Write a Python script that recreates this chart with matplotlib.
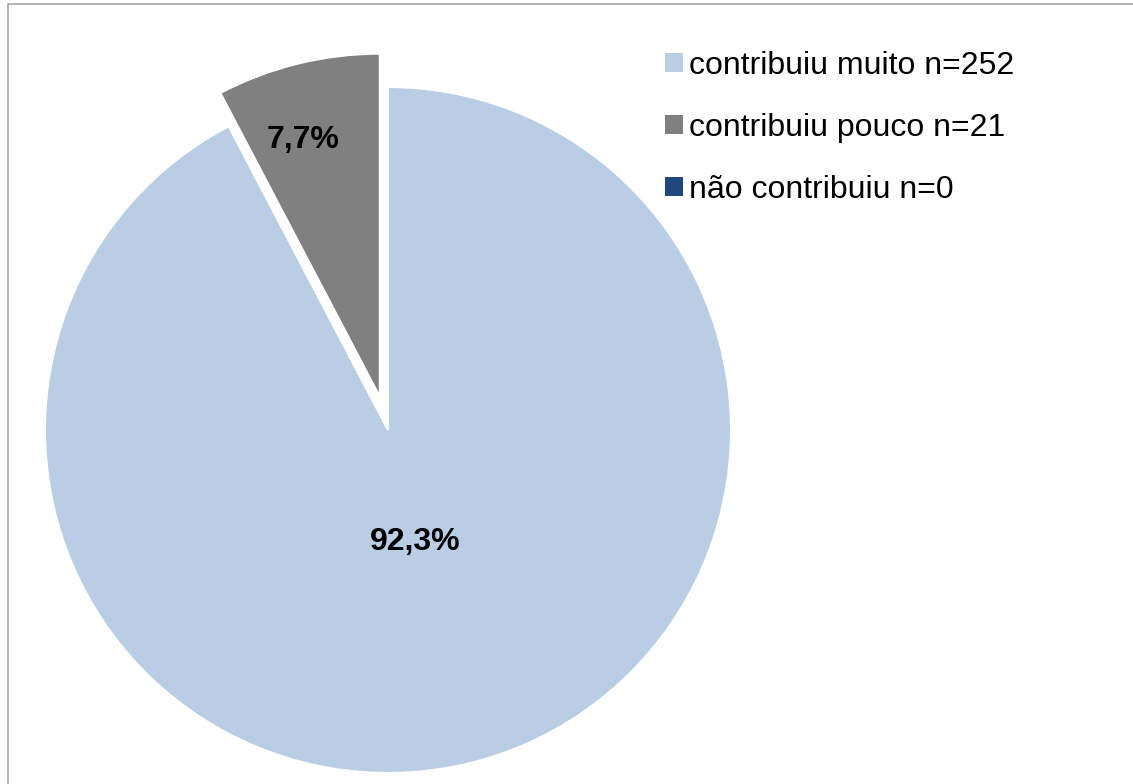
import numpy as np
import matplotlib.pyplot as plt
from matplotlib.patches import Rectangle, Patch

plt.rcParams['font.family'] = ['Liberation Sans', 'DejaVu Sans']

# data
categories = ['contribuiu muito n=252', 'contribuiu pouco n=21', 'não contribuiu n=0']
counts = [252, 21, 0]
colors = ['#B9CDE5', '#808080', '#1F497D']
explode = [0, 0.10, 0]
label_dist = [0.335, 0.77, 0.5]


def fmt_pct(pct):
    if pct <= 0:
        return ''
    return '{:.1f}%'.format(pct).replace('.', ',')


W, H = 1133, 784
fig = plt.figure(figsize=(W / 100, H / 100), dpi=100)
ax = fig.add_axes([0, 0, 1, 1])
ax.axis('off')

# pie laid out in pixel coords (explode is in data units, so scale by radius)
cx, cy, r = 388, H - 430, 343
wedges, texts, autotexts = ax.pie(counts, colors=colors, explode=[e * r for e in explode],
                                  startangle=90, counterclock=False, center=(cx, cy), radius=r,
                                  autopct=fmt_pct, normalize=True, frame=False,
                                  wedgeprops=dict(edgecolor='white', linewidth=1.5),
                                  textprops=dict(fontsize=23, fontweight='bold', color='black'))
ax.set_xlim(0, W)
ax.set_ylim(0, H)
ax.set_aspect('equal')
ax.axis('off')

# move percentage labels along each wedge bisector
for w, t, d in zip(wedges, autotexts, label_dist):
    ang = np.deg2rad((w.theta1 + w.theta2) / 2)
    x0, y0 = w.center
    t.set_position((x0 + d * r * np.cos(ang) - (14 if d > 0.7 else 0),
                    y0 + d * r * np.sin(ang)))

handles = [Patch(facecolor=c, edgecolor='none') for c in colors]
fs = 23
leg = ax.legend(handles, categories, loc='upper left', bbox_to_anchor=(665 / W, 1 - 51 / H),
                bbox_transform=fig.transFigure, frameon=False, fontsize=fs,
                handlelength=0.55, handleheight=0.55, handletextpad=0.2,
                labelspacing=1.0, borderaxespad=0, borderpad=0)

# outer chart border (cropped at right and bottom)
fig.patches.append(Rectangle((7.5 / W, -0.1), 1.2, (H - 4.5) / H + 0.1,
                             transform=fig.transFigure, fill=False,
                             edgecolor='#A6A6A6', linewidth=1.2))

fig.savefig('out.png', dpi=100)
